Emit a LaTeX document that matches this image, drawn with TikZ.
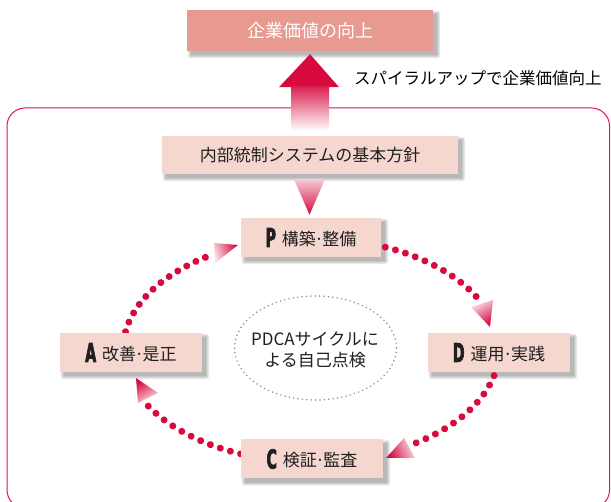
\documentclass[tikz,border=0pt]{standalone}
\usepackage{fontspec}
\setmainfont{Noto Sans CJK JP}
\newfontfamily\letterfont{DejaVu Sans Condensed}[FakeStretch=0.6, FakeBold=2.5]
\usetikzlibrary{calc,backgrounds,decorations.markings}
\definecolor{crim}{RGB}{214,10,62}
\definecolor{salmon}{RGB}{232,154,145}
\definecolor{boxpink}{RGB}{245,215,208}
\definecolor{framecol}{RGB}{226,22,72}
\newcommand\pdcaletter[1]{\raisebox{-1.5pt}{\letterfont\bfseries\fontsize{26}{26}\selectfont #1}}
\newcommand\mdot{\kern-1.5pt·\kern-1.5pt}
\begin{document}
\begin{tikzpicture}[x=1pt,y=-1pt,
  box/.style={fill=boxpink, minimum height=39pt, inner sep=0pt,
    font=\fontsize{17}{20}\selectfont, text=black!88},
  stepbox/.style={box, minimum width=142pt},
  dotarc/.style={postaction={decorate}, decoration={markings,
    mark=between positions 0 and 1 step #1 with {\fill[crim] (0,0) circle (3.5pt);}}},
  headshade/.style={top color=crim, bottom color=crim!12!white, shading angle=#1},
]
\useasboundingbox (0,0) rectangle (611,502);
% outer frame
\draw[framecol, line width=1pt, rounded corners=18pt] (7,108) rectangle (609.5,508);

% ellipse centre of the cycle
\coordinate (E) at (311,350);

% dotted arcs
\path[dotarc=0.0999] ($(E)+(-66.7:188 and 112)$) arc[start angle=-66.7, end angle=-28.5, x radius=188, y radius=112];
\path[dotarc=0.0999] ($(E)+(13.2:188 and 112)$) arc[start angle=13.2, end angle=56, x radius=188, y radius=112];
\path[dotarc=0.0999] ($(E)+(112:188 and 112)$) arc[start angle=112, end angle=150, x radius=188, y radius=112];
\path[dotarc=0.0909] ($(E)+(189.4:188 and 112)$) arc[start angle=189.4, end angle=235.8, x radius=188, y radius=112];

% arrow heads
\shade[headshade=-150] (471,307) -- (493,300) -- (490,327) -- cycle;
\shade[headshade=113] (404,438) -- (415,458) -- (386,458) -- cycle;
\shade[headshade=31] (158,393) -- (138,403) -- (136,378) -- cycle;
\shade[headshade=-71] (214,243) -- (215,263) -- (238,245) -- cycle;

% nodes
\node[fill=salmon, minimum width=246pt, minimum height=41pt, inner sep=0pt,
  text=white, font=\fontsize{18}{20}\selectfont] (top) at (310,30.5) {企業価値の向上};
\node[box, minimum width=296pt, minimum height=38pt] (basic) at (310,155) {内部統制システムの基本方針};
\node[box, minimum width=140pt] (P) at (311,237.5) {\pdcaletter{P}\hspace{6pt}構築\mdot 整備};
\node[stepbox] (D) at (499,352.5) {\pdcaletter{D}\hspace{6pt}運用\mdot 実践};
\node[stepbox] (C) at (312,459) {\pdcaletter{C}\hspace{6pt}検証\mdot 監査};
\node[stepbox] (A) at (131,352.5) {\pdcaletter{A}\hspace{6pt}改善\mdot 是正};

\node[align=center, font=\fontsize{17}{21}\selectfont, text=black!88] (cyc) at (315,350) {PDCAサイクルに\\よる自己点検};
\draw[black!45, line width=1.7pt, line cap=round, dash pattern=on 0pt off 4.4pt] (315.5,348) ellipse [x radius=81, y radius=52];

\node[anchor=west, font=\fontsize{16.5}{18}\selectfont, inner sep=0pt] (spiral) at (354,78) {スパイラルアップで企業価値向上};

% big up arrow from basic policy to top
\fill[crim] ($(top.south)+(-31,36)$) -- ($(top.south)+(0,3)$) -- ($(top.south)+(29,36)$) -- cycle;
\shade[top color=crim!90!white, bottom color=white] ($(top.south)+(-19,35.5)$) rectangle ($(basic.north)+(19,-5)$);

% down triangle from basic policy to P
\shade[top color=crim!22!white, bottom color=crim] ($(basic.south)+(-16,5)$) -- ($(basic.south)+(15,5)$) -- ($(P.north)+(-1.5,-3)$) -- cycle;

% soft shadows
\begin{scope}[on background layer]
\foreach \n in {top,basic,P,D,C,A}{
  \foreach \k in {0,1,2,3}{
    \fill[black, opacity=0.08, rounded corners=\k pt] ($(\n.north west)+(4-\k,4-\k)$) rectangle ($(\n.south east)+(4+\k,4+\k)$);
  }}
\end{scope}
\end{tikzpicture}
\end{document}
